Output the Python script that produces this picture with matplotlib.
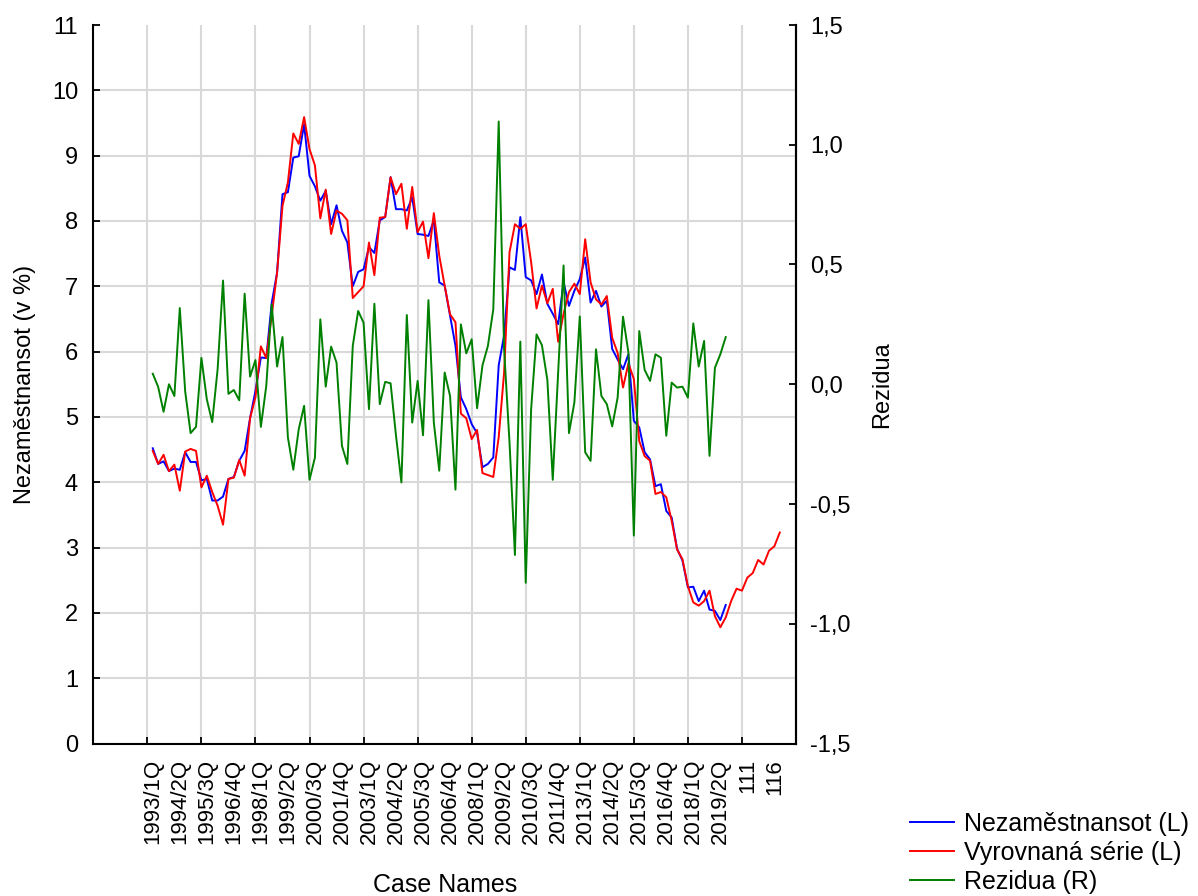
import numpy as np
import matplotlib.pyplot as plt
from matplotlib.ticker import FixedLocator, NullFormatter

plt.rcParams['font.family'] = ['Liberation Sans', 'DejaVu Sans']
plt.rcParams['font.size'] = 17

# --- data ---
# unemployment rate, quarterly from 1993/1Q (case 1)
unemployment = [
    4.52, 4.28, 4.32, 4.17, 4.21, 4.19, 4.46, 4.31, 4.31, 4.03,
    4.05, 3.72, 3.72, 3.78, 4.05, 4.08, 4.33, 4.48, 4.98, 5.40,
    5.91, 5.90, 6.74, 7.21, 8.41, 8.44, 8.97, 8.99, 9.48, 8.69,
    8.53, 8.31, 8.46, 7.95, 8.24, 7.85, 7.67, 7.00, 7.22, 7.26,
    7.60, 7.51, 8.01, 8.06, 8.67, 8.18, 8.18, 8.16, 8.36, 7.80,
    7.79, 7.77, 8.01, 7.06, 7.01, 6.55, 6.09, 5.30, 5.12, 4.89,
    4.75, 4.23, 4.28, 4.38, 5.79, 6.25, 7.29, 7.25, 8.06, 7.14,
    7.09, 6.88, 7.18, 6.73, 6.58, 6.42, 7.06, 6.70, 6.93, 7.11,
    7.44, 6.75, 6.93, 6.69, 6.78, 6.04, 5.88, 5.73, 5.96, 4.94,
    4.84, 4.46, 4.35, 3.94, 3.97, 3.56, 3.46, 2.98, 2.80, 2.39,
    2.40, 2.18, 2.34, 2.05, 2.03, 1.89, 2.12,
]

# smoothed series, runs 10 quarters past the data
smoothed = [
    4.48, 4.28, 4.42, 4.17, 4.27, 3.87, 4.47, 4.51, 4.48, 3.92,
    4.10, 3.85, 3.64, 3.35, 4.05, 4.07, 4.34, 4.10, 4.98, 5.30,
    6.08, 5.90, 6.55, 7.21, 8.23, 8.59, 9.34, 9.18, 9.59, 9.10,
    8.85, 8.04, 8.48, 7.80, 8.16, 8.11, 8.01, 6.82, 6.91, 7.00,
    7.67, 7.17, 8.05, 8.06, 8.67, 8.41, 8.57, 7.88, 8.52, 7.83,
    7.99, 7.43, 8.12, 7.47, 7.01, 6.57, 6.45, 5.05, 4.98, 4.66,
    4.80, 4.14, 4.11, 4.08, 4.69, 5.68, 7.52, 7.95, 7.88, 7.95,
    7.37, 6.66, 7.01, 6.74, 6.96, 6.15, 6.58, 6.91, 7.04, 6.88,
    7.72, 7.06, 6.80, 6.72, 6.85, 6.21, 5.98, 5.45, 5.82, 5.58,
    4.63, 4.40, 4.33, 3.82, 3.85, 3.77, 3.41, 2.97, 2.82, 2.41,
    2.16, 2.11, 2.18, 2.34, 1.95, 1.78, 1.93, 2.18, 2.37, 2.34,
    2.54, 2.61, 2.81, 2.74, 2.95, 3.02, 3.23,
]

# residuals (right axis)
residuals = [
    0.044, -0.011, -0.115, 0.000, -0.049, 0.318, -0.030, -0.204, -0.178, 0.110,
    -0.063, -0.158, 0.063, 0.433, -0.040, -0.024, -0.067, 0.378, 0.032, 0.101,
    -0.178, -0.007, 0.333, 0.074, 0.197, -0.222, -0.357, -0.188, -0.090, -0.399,
    -0.306, 0.271, -0.010, 0.157, 0.090, -0.257, -0.333, 0.160, 0.306, 0.257,
    -0.104, 0.336, -0.083, 0.010, 0.004, -0.215, -0.410, 0.289, -0.160, 0.014,
    -0.213, 0.351, -0.160, -0.361, 0.049, -0.049, -0.440, 0.250, 0.129, 0.188,
    -0.100, 0.079, 0.160, 0.313, 1.097, 0.146, -0.243, -0.713, 0.178, -0.829,
    -0.104, 0.208, 0.163, 0.018, -0.399, 0.050, 0.496, -0.204, -0.076, 0.283,
    -0.284, -0.320, 0.146, -0.049, -0.083, -0.176, -0.056, 0.282, 0.132, -0.632,
    0.222, 0.060, 0.014, 0.125, 0.111, -0.215, 0.007, -0.014, -0.010, -0.056,
    0.254, 0.074, 0.181, -0.299, 0.069, 0.125, 0.197,
]

label_cases = list(range(1, 117, 5))
label_names = [
    "1993/1Q", "1994/2Q", "1995/3Q", "1996/4Q", "1998/1Q", "1999/2Q",
    "2000/3Q", "2001/4Q", "2003/1Q", "2004/2Q", "2005/3Q", "2006/4Q",
    "2008/1Q", "2009/2Q", "2010/3Q", "2011/4Q", "2013/1Q", "2014/2Q",
    "2015/3Q", "2016/4Q", "2018/1Q", "2019/2Q", "111", "116",
]
grid_cases = list(range(0, 111, 10))
left_ticks = list(range(0, 12))
right_ticks = [-1.5, -1.0, -0.5, 0.0, 0.5, 1.0, 1.5]
right_labels = ["-1,5", "-1,0", "-0,5", "0,0", "0,5", "1,0", "1,5"]

# --- figure ---
W, H = 1198, 896
fig = plt.figure(figsize=(W / 100, H / 100), dpi=100)
L, R, T, B = 93.3, 796, 25, 743.5
ax = fig.add_axes([L / W, 1 - B / H, (R - L) / W, (B - T) / H])
ax2 = ax.twinx()

x_u = np.arange(1, len(unemployment) + 1)
x_s = np.arange(1, len(smoothed) + 1)
x_r = np.arange(1, len(residuals) + 1)

h1, = ax.plot(x_u, unemployment, color="#0000ff", lw=1.4)
h2, = ax.plot(x_s, smoothed, color="#ff0000", lw=1.4)
h3, = ax2.plot(x_r, residuals, color="#008000", lw=1.4)

ax.set_xlim(-10, 120)
ax.set_ylim(0, 11)
ax2.set_ylim(-1.5, 1.5)

# x: gridlines every 10 cases, case names every 5
ax.xaxis.set_major_locator(FixedLocator(grid_cases))
ax.xaxis.set_major_formatter(NullFormatter())
ax.set_xticks(label_cases, label_names, minor=True, rotation=90, fontsize=16)
ax.tick_params(axis="x", which="minor", length=0, pad=11)
ax.tick_params(axis="x", which="major", direction="in", length=5, width=1.3)

ax.set_yticks(left_ticks)
ax.tick_params(axis="y", direction="in", length=5, width=1.3, pad=11)
ax2.set_yticks(right_ticks, right_labels)
ax2.tick_params(axis="y", direction="in", length=5, width=1.3, pad=10)

ax.grid(True, which="major", color="#d9d9d9", lw=1.5)
ax.yaxis.get_major_ticks()[-1].gridline.set_visible(False)
ax.set_axisbelow(True)

for a in (ax, ax2):
    a.spines["top"].set_visible(False)
    for s in ("left", "right", "bottom"):
        a.spines[s].set_linewidth(1.5)
ax2.spines["left"].set_visible(False)
ax2.spines["bottom"].set_visible(False)

ax.set_ylabel("Nezaměstnansot (v %)", fontsize=17)
ax.yaxis.set_label_coords(-0.097, 0.5)
ax2.set_ylabel("Rezidua", fontsize=17)
ax2.yaxis.set_label_coords(1.1224, 0.5)
for lab in (ax.yaxis.label, ax2.yaxis.label):
    lab.set_va("center")
    lab.set_ha("center")
ax.set_xlabel("Case Names", fontsize=18)
ax.xaxis.set_label_coords(0.5, -0.197)
ax.xaxis.label.set_va("center")

fig.legend([h1, h2, h3],
           ["Nezaměstnansot (L)", "Vyrovnaná série (L)", "Rezidua (R)"],
           loc="lower left", bbox_to_anchor=(910 / W, 0.002),
           frameon=False, fontsize=18, borderpad=0, borderaxespad=0,
           handlelength=1.75, handletextpad=0.4, labelspacing=0.2)

fig.savefig("out.png", dpi=100)
